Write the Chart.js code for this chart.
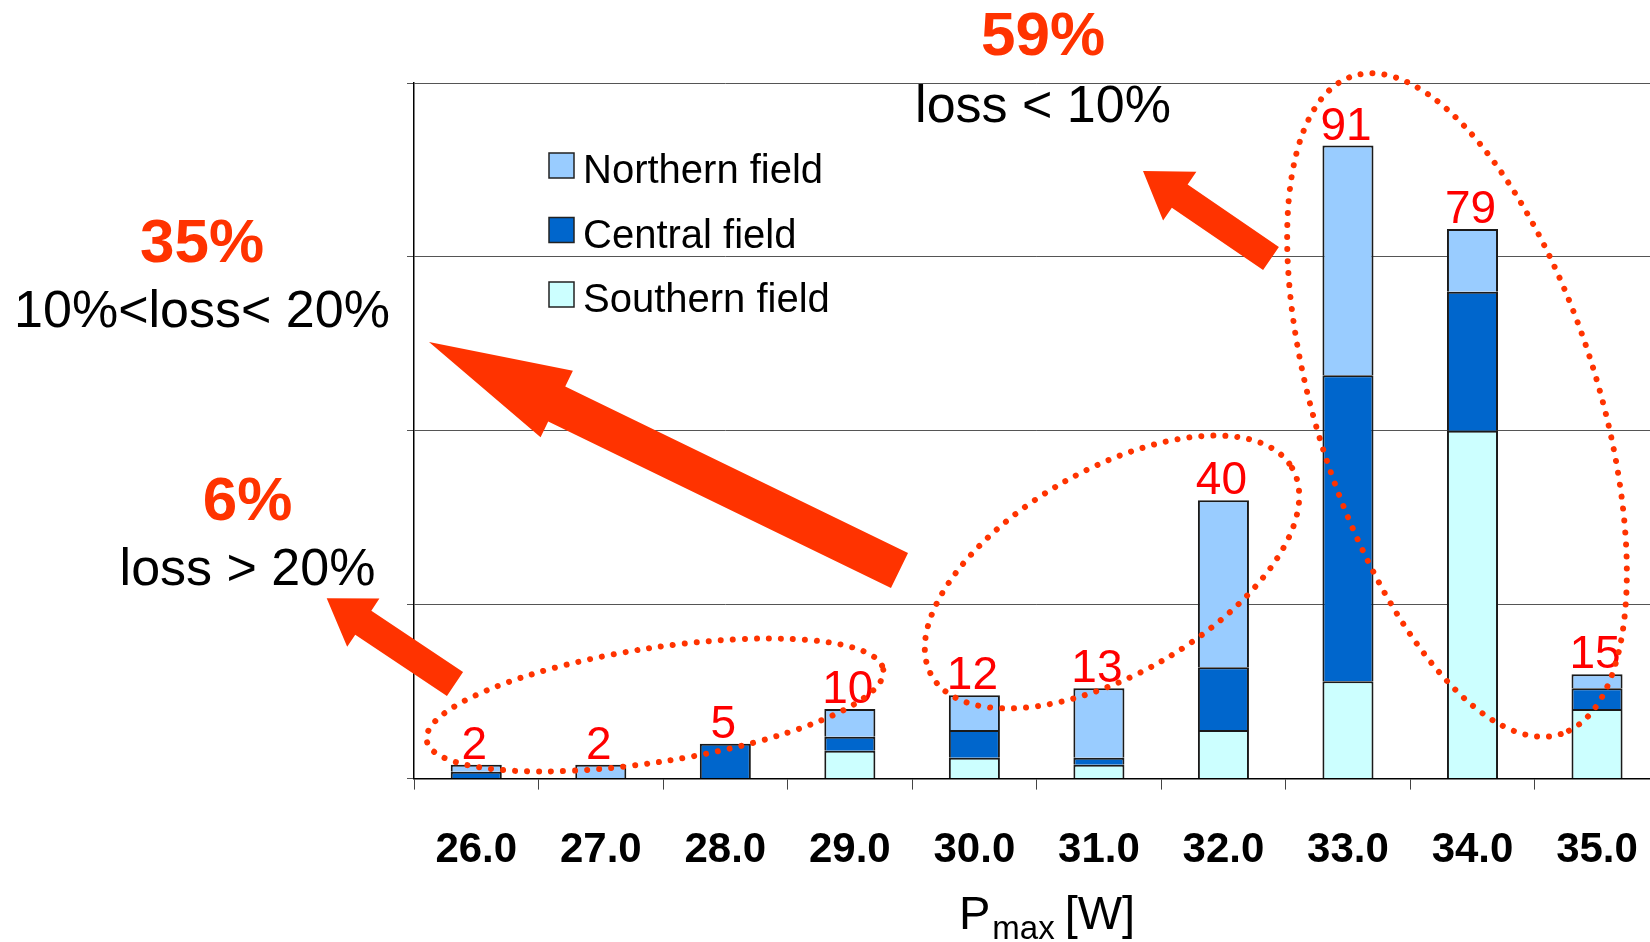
<!DOCTYPE html>
<html lang="en">
<head>
  <meta charset="UTF-8" />
  <title>Pmax distribution</title>
  <script src="https://cdn.jsdelivr.net/npm/chart.js"></script>
  <style>
    html, body {
      margin: 0;
      padding: 0;
      background: #fff;
      overflow: hidden;
    }
    #wrap {
      width: 1674px;
      height: 942px;
    }
  </style>
</head>
<body>
  <div id="wrap">
    <canvas id="pmaxChart" width="1674" height="942"></canvas>
  </div>

  <script>
    // Data
    const categories = ['26.0', '27.0', '28.0', '29.0', '30.0', '31.0', '32.0', '33.0', '34.0', '35.0'];
    const southern = [0, 0, 0, 4, 3, 2, 7, 14, 50, 10];
    const central  = [1, 0, 5, 2, 4, 1, 9, 44, 20, 3];
    const northern = [1, 2, 0, 4, 5, 10, 24, 33, 9, 2];
    const yMax = 100;
    const yStep = 25;

    const shares = ['6%', '35%', '59%'];
    const shareLabels = ['loss > 20%', '10%<loss< 20%', 'loss < 10%'];

    const FONT = '"Liberation Sans", Arial, sans-serif';
    const ORANGE = '#ff3300';

    // red totals above each stacked bar
    const totalsPlugin = {
      id: 'totals',
      afterDatasetsDraw(chart) {
        const ctx = chart.ctx;
        const x = chart.scales.x, y = chart.scales.y;
        ctx.save();
        ctx.fillStyle = '#ff0000';
        ctx.font = '46px ' + FONT;
        ctx.textAlign = 'center';
        ctx.textBaseline = 'alphabetic';
        categories.forEach((c, i) => {
          const total = southern[i] + central[i] + northern[i];
          ctx.fillText(String(total), x.getPixelForValue(i) - 2, y.getPixelForValue(total) - 6);
        });
        ctx.restore();
      }
    };

    // legend drawn inside the plot, top series first
    const legendPlugin = {
      id: 'innerLegend',
      afterDraw(chart) {
        const ctx = chart.ctx;
        const ds = chart.data.datasets.slice().reverse();
        ctx.save();
        ctx.font = '40px ' + FONT;
        ctx.textBaseline = 'alphabetic';
        ds.forEach((d, i) => {
          const top = 153 + i * 64.5;
          ctx.fillStyle = d.backgroundColor;
          ctx.fillRect(549, top, 25, 25);
          ctx.strokeStyle = '#222';
          ctx.lineWidth = 1.5;
          ctx.strokeRect(549, top, 25, 25);
          ctx.fillStyle = '#000';
          ctx.fillText(d.label, 583, top + 30);
        });
        ctx.restore();
      }
    };

    function drawArrow(ctx, tip, tail, shaft, head, headLen) {
      const dx = tip[0] - tail[0], dy = tip[1] - tail[1];
      const len = Math.hypot(dx, dy);
      const ux = dx / len, uy = dy / len;
      const px = -uy, py = ux;
      const bx = tip[0] - ux * headLen, by = tip[1] - uy * headLen;
      ctx.beginPath();
      ctx.moveTo(tail[0] + px * shaft / 2, tail[1] + py * shaft / 2);
      ctx.lineTo(bx + px * shaft / 2, by + py * shaft / 2);
      ctx.lineTo(bx + px * head / 2, by + py * head / 2);
      ctx.lineTo(tip[0], tip[1]);
      ctx.lineTo(bx - px * head / 2, by - py * head / 2);
      ctx.lineTo(bx - px * shaft / 2, by - py * shaft / 2);
      ctx.lineTo(tail[0] - px * shaft / 2, tail[1] - py * shaft / 2);
      ctx.closePath();
      ctx.fill();
    }

    function dottedEllipse(ctx, cx, cy, a, b, deg) {
      ctx.beginPath();
      ctx.ellipse(cx, cy, a, b, deg * Math.PI / 180, 0, Math.PI * 2);
      ctx.stroke();
    }

    // arrows, dotted groups, share texts and the axis title
    const notesPlugin = {
      id: 'notes',
      afterDraw(chart) {
        const ctx = chart.ctx;
        ctx.save();

        ctx.strokeStyle = ORANGE;
        ctx.lineWidth = 6;
        ctx.lineCap = 'round';
        ctx.setLineDash([0.01, 12]);
        dottedEllipse(ctx, 655, 705, 231, 57, -8.8);
        dottedEllipse(ctx, 1112, 572, 208, 102, -30);
        dottedEllipse(ctx, 1457, 405, 345, 141, 72.5);
        ctx.setLineDash([]);

        ctx.fillStyle = ORANGE;
        drawArrow(ctx, [1143, 171], [1271, 258.5], 28, 59, 44.5);
        drawArrow(ctx, [429, 342], [899.5, 570.5], 39, 74, 142);
        drawArrow(ctx, [326.7, 598.3], [455, 684], 29, 58, 44);

        ctx.textAlign = 'center';
        ctx.textBaseline = 'alphabetic';
        const spots = [[247.5, 520, 585], [202, 262, 327], [1043, 55, 122]];
        spots.forEach((s, i) => {
          ctx.fillStyle = ORANGE;
          ctx.font = 'bold 62px ' + FONT;
          ctx.fillText(shares[i], s[0], s[1]);
          ctx.fillStyle = '#000';
          ctx.font = '52px ' + FONT;
          ctx.fillText(shareLabels[i], s[0], s[2]);
        });

        // x axis title with subscript
        ctx.textAlign = 'left';
        ctx.fillStyle = '#000';
        let x0 = 959;
        ctx.font = '47px ' + FONT;
        ctx.fillText('P', x0, 929);
        x0 += ctx.measureText('P').width + 2;
        ctx.font = '33px ' + FONT;
        ctx.fillText('max', x0, 939);
        x0 += ctx.measureText('max').width + 10;
        ctx.font = '47px ' + FONT;
        ctx.fillText('[W]', x0, 929);

        ctx.restore();
      }
    };

    const ctx = document.getElementById('pmaxChart').getContext('2d');
    const pmaxChart = new Chart(ctx, {
      type: 'bar',
      data: {
        labels: categories,
        datasets: [
          { label: 'Southern field', data: southern, backgroundColor: '#ccffff' },
          { label: 'Central field', data: central, backgroundColor: '#0066cc' },
          { label: 'Northern field', data: northern, backgroundColor: '#99ccff' }
        ]
      },
      options: {
        responsive: false,
        animation: false,
        layout: {
          padding: { left: 407, top: 83, right: 2, bottom: 30 }
        },
        datasets: {
          bar: {
            borderColor: '#1a1a1a',
            borderWidth: 2,
            barPercentage: 0.41,
            categoryPercentage: 1.0
          }
        },
        plugins: {
          legend: { display: false },
          tooltip: { enabled: false }
        },
        scales: {
          x: {
            stacked: true,
            grid: {
              offset: true,
              drawOnChartArea: false,
              tickLength: 11,
              color: '#444'
            },
            border: { color: '#000', width: 1.5 },
            ticks: {
              color: '#000',
              padding: 36,
              font: { family: FONT, size: 42, weight: 'bold' }
            }
          },
          y: {
            stacked: true,
            min: 0,
            max: yMax,
            ticks: { display: false, stepSize: yStep },
            grid: { color: '#555', tickLength: 7, lineWidth: 1 },
            border: { color: '#000', width: 1.5 }
          }
        }
      },
      plugins: [totalsPlugin, legendPlugin, notesPlugin]
    });
  </script>
</body>
</html>
